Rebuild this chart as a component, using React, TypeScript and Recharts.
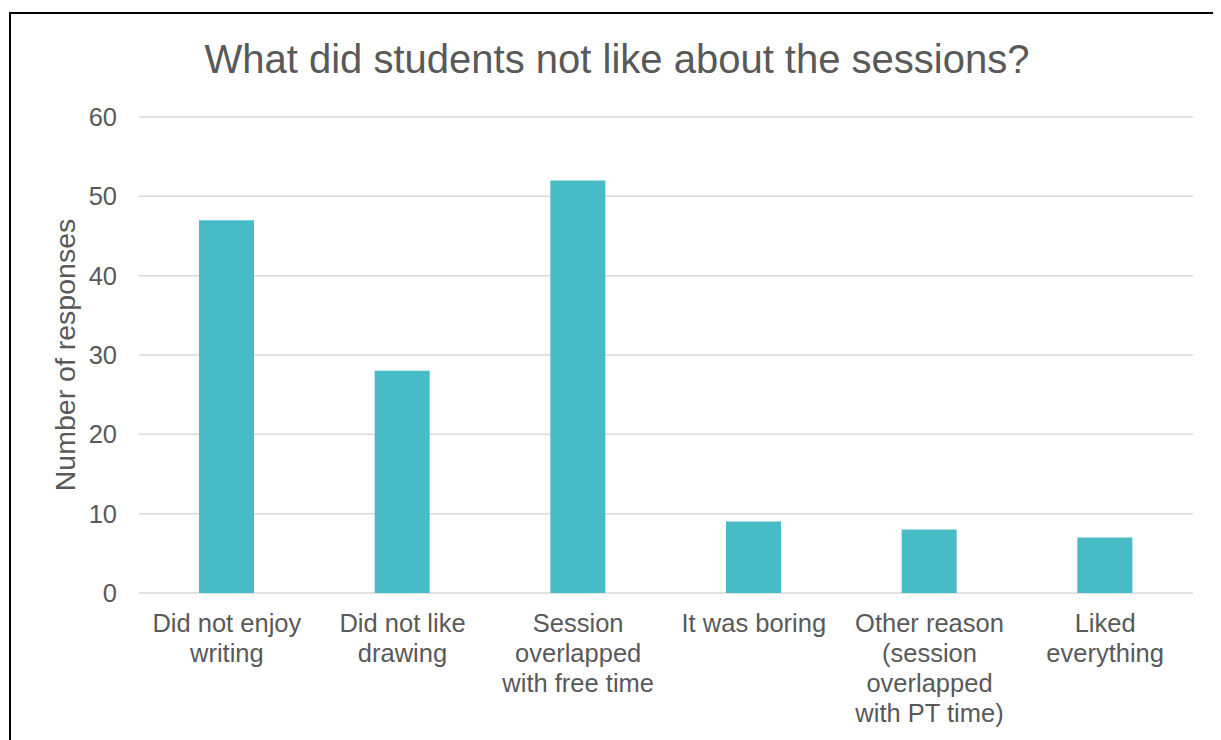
import React from "react";
import { BarChart, Bar, XAxis, YAxis, CartesianGrid } from "recharts";

const categories = [
  "Did not enjoy\nwriting",
  "Did not like\ndrawing",
  "Session\noverlapped\nwith free time",
  "It was boring",
  "Other reason\n(session\noverlapped\nwith PT time)",
  "Liked\neverything",
];
const responses = [47, 28, 52, 9, 8, 7];
const yTicks = [0, 10, 20, 30, 40, 50, 60];
const title = "What did students not like about the sessions?";
const yLabel = "Number of responses";

const data = categories.map((c, i) => ({ category: c, value: responses[i] }));

const FONT = "'Liberation Sans', Arial, Helvetica, sans-serif";
const TEXT = "#595959";

const XTick = (props: any) => {
  const { x, y, payload } = props;
  const lines = String(payload.value).split("\n");
  return (
    <text x={x} y={y} textAnchor="middle" fill={TEXT} fontSize={25.5} fontFamily={FONT}>
      {lines.map((l: string, i: number) => (
        <tspan key={i} x={x} y={y + 38.5 + i * 30}>
          {l}
        </tspan>
      ))}
    </text>
  );
};

export default function App() {
  return (
    <div style={{ position: "relative", width: 1213, height: 732, overflow: "hidden", background: "#fff" }}>
      <div
        style={{
          position: "absolute",
          left: 1,
          top: 4,
          width: 1300,
          height: 800,
          border: "2px solid #000",
          boxSizing: "border-box",
        }}
      />
      <div
        style={{
          position: "absolute",
          left: 0,
          width: 1218,
          top: 27,
          textAlign: "center",
          fontFamily: FONT,
          fontSize: 40,
          color: TEXT,
          lineHeight: "48px",
          whiteSpace: "nowrap",
        }}
      >
        {title}
      </div>
      <div style={{ position: "absolute", left: 0, top: 0 }}>
        <BarChart
          width={1213}
          height={732}
          data={data}
          margin={{ top: 109, right: 28, left: 0, bottom: 0 }}
        >
          <CartesianGrid horizontal vertical={false} stroke="#d9d9d9" strokeWidth={1.5} />
          <XAxis
            dataKey="category"
            axisLine={false}
            tickLine={false}
            tickSize={0}
            tickMargin={0}
            height={147}
            interval={0}
            tick={<XTick />}
          />
          <YAxis
            domain={[0, 60]}
            ticks={yTicks}
            width={131}
            axisLine={false}
            tickLine={false}
            tickSize={0}
            tickMargin={22}
            tick={{ fill: TEXT, fontSize: 25.5, fontFamily: FONT }}
            label={{
              value: yLabel,
              angle: -90,
              position: "insideLeft",
              offset: 57,
              style: { textAnchor: "middle", fill: TEXT, fontSize: 28.5, fontFamily: FONT },
            }}
          />
          <Bar dataKey="value" fill="#47BBC6" barSize={55} isAnimationActive={false} />
        </BarChart>
      </div>
    </div>
  );
}
